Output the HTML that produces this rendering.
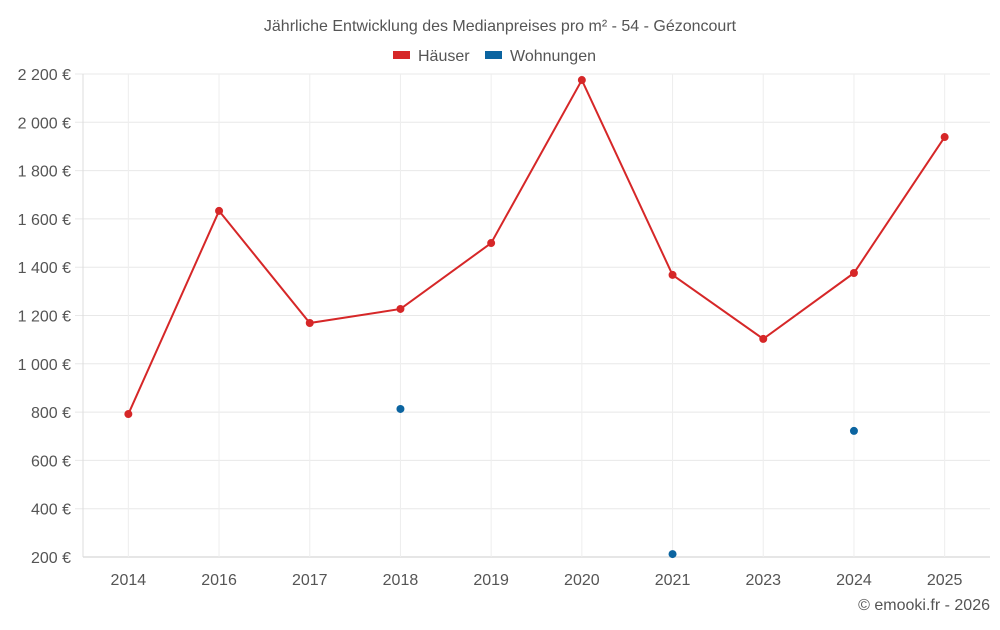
<!DOCTYPE html>
<html><head><meta charset="utf-8"><style>
body{margin:0;background:#fff;font-family:"Liberation Sans",sans-serif;}
svg text{font-family:"Liberation Sans",sans-serif;}
</style></head><body>
<svg id="chart" width="1000" height="625">
<text x="500" y="31" text-anchor="middle" font-size="16" fill="#555">Jährliche Entwicklung des Medianpreises pro m² - 54 - Gézoncourt</text>
<g>
<g><rect x="393" y="51" width="17" height="8" fill="#d62728"/><text x="418" y="61" font-size="16" fill="#555">Häuser</text></g>
<g><rect x="485" y="51" width="17" height="8" fill="#0b64a0"/><text x="510" y="61" font-size="16" fill="#555">Wohnungen</text></g>
</g>
<g id="grid"></g><g id="axes"></g><g id="marks"></g>
<text x="990" y="610" text-anchor="end" font-size="16" fill="#555">© emooki.fr - 2026</text>
</svg>
<script>
const categories=["2014","2016","2017","2018","2019","2020","2021","2023","2024","2025"];
const haeuser=[792,1633,1169,1227,1500,2175,1368,1103,1376,1939];
const wohnungen=[null,null,null,813,null,null,212,null,722,null];
const yTicks=[200,400,600,800,1000,1200,1400,1600,1800,2000,2200];
const yTickLabels=["200 €","400 €","600 €","800 €","1 000 €","1 200 €","1 400 €","1 600 €","1 800 €","2 000 €","2 200 €"];
const L=83,R=990,T=74,B=557,ymin=200,ymax=2200;
const bw=(R-L)/categories.length;
const x=i=>L+bw*(i+0.5);
const y=v=>B-(v-ymin)/(ymax-ymin)*(B-T);
const NS="http://www.w3.org/2000/svg";
function mk(tag,attrs,parent){const e=document.createElementNS(NS,tag);for(const k in attrs)e.setAttribute(k,attrs[k]);document.getElementById(parent).appendChild(e);return e;}
yTicks.forEach((v,i)=>{
  const g=mk('line',{x1:i==0?L:75,x2:R,y1:y(v),y2:y(v),stroke:i==0?'#ccc':'#e8e8e8','stroke-width':1},'grid');
  
  
  const t=mk('text',{x:71,y:y(v)+6,'text-anchor':'end','font-size':16,fill:'#555'},'axes');
  t.textContent=yTickLabels[i];
  
  
});
const ax=mk('line',{x1:L,x2:L,y1:T,y2:B,stroke:'#ddd','stroke-width':1},'grid');


categories.forEach((c,i)=>{
  const g=mk('line',{x1:x(i),x2:x(i),y1:T,y2:B,stroke:'#eee','stroke-width':1},'grid');
  
  
  const t=mk('text',{x:x(i),y:585,'text-anchor':'middle','font-size':16,fill:'#555'},'axes');
  t.textContent=c;
  
  
});
const pts=haeuser.map((v,i)=>v==null?null:x(i)+','+y(v)).filter(Boolean).join(' ');
const pl=mk('polyline',{points:pts,fill:'none',stroke:'#d62728','stroke-width':2},'marks');


haeuser.forEach((v,i)=>{if(v==null)return;
  const c=mk('circle',{cx:x(i),cy:y(v),r:4,fill:'#d62728'},'marks');
  
  
});
wohnungen.forEach((v,i)=>{if(v==null)return;
  const c=mk('circle',{cx:x(i),cy:y(v),r:4,fill:'#0b64a0'},'marks');
  
  
});
</script>
</body></html>
